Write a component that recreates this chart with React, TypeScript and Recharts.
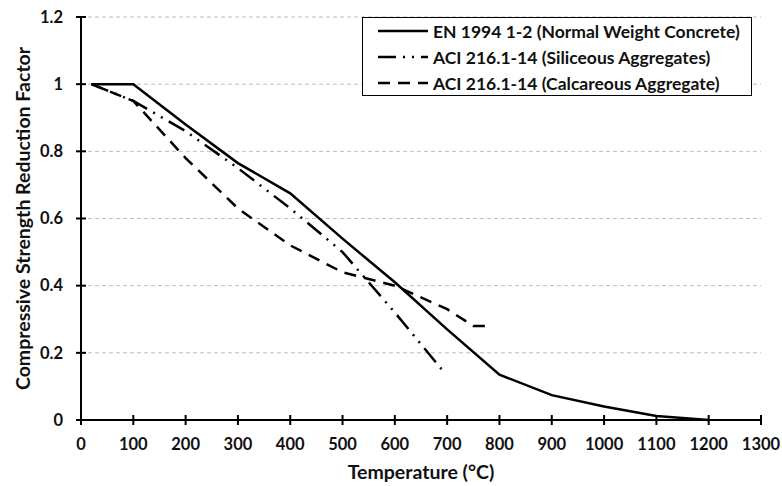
import { LineChart, Line, XAxis, YAxis, CartesianGrid, Legend, Label } from "recharts";

// EN 1994 1-2 (normal weight concrete)
const enTemps = [20, 100, 200, 300, 400, 500, 600, 700, 800, 900, 1000, 1100, 1200];
const enFactors = [1, 1, 0.88, 0.765, 0.675, 0.54, 0.41, 0.27, 0.135, 0.074, 0.04, 0.012, 0];

// ACI 216.1-14 siliceous
const silTemps = [20, 100, 200, 300, 400, 500, 600, 690];
const silFactors = [1, 0.95, 0.86, 0.75, 0.63, 0.5, 0.32, 0.15];

// ACI 216.1-14 calcareous
const calTemps = [20, 100, 200, 300, 400, 500, 600, 700, 750, 780];
const calFactors = [1, 0.95, 0.78, 0.63, 0.52, 0.44, 0.4, 0.33, 0.28, 0.28];

const xTicks = [0, 100, 200, 300, 400, 500, 600, 700, 800, 900, 1000, 1100, 1200, 1300];
const yTicks = [0, 0.2, 0.4, 0.6, 0.8, 1, 1.2];
const yTickLabels = ["0", "0.2", "0.4", "0.6", "0.8", "1", "1.2"];

const seriesNames = [
  "EN 1994 1-2 (Normal Weight Concrete)",
  "ACI 216.1-14 (Siliceous Aggregates)",
  "ACI 216.1-14 (Calcareous Aggregate)",
];

const toPoints = (temps: number[], vals: number[]) =>
  temps.map((t, i) => ({ t, v: vals[i] }));

const enData = toPoints(enTemps, enFactors);
const silData = toPoints(silTemps, silFactors);
const calData = toPoints(calTemps, calFactors);

const FONT = "Lato, 'Open Sans', sans-serif";
const TEXT = "#111";
const dashes: Record<string, string | undefined> = {
  [seriesNames[0]]: undefined,
  [seriesNames[1]]: "18 7 2 7 2 7",
  [seriesNames[2]]: "12 8",
};

function XTick(props: any) {
  const { x, y, payload } = props;
  return (
    <g>
      <line x1={x} x2={x} y1={y - 5} y2={y + 5} stroke="#000" strokeWidth={2} />
      <text x={x} y={y + 30} textAnchor="middle" fontFamily={FONT} fontWeight={700} fontSize={16.5} fill={TEXT}>
        {payload.value}
      </text>
    </g>
  );
}

function YTick(props: any) {
  const { x, y, payload, index } = props;
  return (
    <g>
      <line x1={x - 5} x2={x + 5} y1={y} y2={y} stroke="#000" strokeWidth={2} />
      <text x={x - 18} y={y} dy="0.35em" textAnchor="end" fontFamily={FONT} fontWeight={700} fontSize={16.5} fill={TEXT}>
        {yTickLabels[index] ?? payload.value}
      </text>
    </g>
  );
}

function LegendBox() {
  return (
    <div
      style={{
        width: 390,
        height: 79,
        boxSizing: "border-box",
        border: "1.5px solid #000",
        background: "#fff",
        fontFamily: FONT,
        fontWeight: 700,
        fontSize: 17.5,
        color: TEXT,
      }}
    >
      {seriesNames.map((name) => (
        <div key={name} style={{ height: 26, display: "flex", alignItems: "center", whiteSpace: "nowrap" }}>
          <svg width={70} height={26} style={{ flex: "none" }}>
            <line x1={15} x2={65} y1={13} y2={13} stroke="#000" strokeWidth={2.5} strokeDasharray={dashes[name]} />
          </svg>
          <span>{name}</span>
        </div>
      ))}
    </div>
  );
}

export default function App() {
  return (
    <div style={{ position: "absolute", left: 0, top: 0, background: "#fff" }}>
      <LineChart width={782} height={486} margin={{ top: 17, right: 21, bottom: 0, left: 0 }}>
        <CartesianGrid horizontal vertical={false} stroke="#bdbdbd" strokeDasharray="4 3" />
        <XAxis
          dataKey="t"
          type="number"
          domain={[0, 1300]}
          ticks={xTicks}
          allowDuplicatedCategory={false}
          height={66}
          tickSize={0}
          tickMargin={0}
          tickLine={false}
          tick={<XTick />}
          axisLine={{ stroke: "#000", strokeWidth: 2 }}
        >
          <Label
            content={({ viewBox }: any) => (
              <text
                x={viewBox.x + viewBox.width / 2}
                y={viewBox.y + 59}
                textAnchor="middle"
                fontFamily={FONT}
                fontWeight={700}
                fontSize={19.5}
                fill={TEXT}
              >
                Temperature (°C)
              </text>
            )}
          />
        </XAxis>
        <YAxis
          type="number"
          domain={[0, 1.2]}
          ticks={yTicks}
          width={81}
          tickSize={0}
          tickMargin={0}
          tickLine={false}
          tick={<YTick />}
          axisLine={{ stroke: "#000", strokeWidth: 2 }}
        >
          <Label
            content={({ viewBox }: any) => {
              const cx = viewBox.x + 22;
              const cy = viewBox.y + viewBox.height / 2;
              return (
                <text
                  x={cx}
                  y={cy}
                  transform={`rotate(-90, ${cx}, ${cy})`}
                  textAnchor="middle"
                  dominantBaseline="central"
                  fontFamily={FONT}
                  fontWeight={700}
                  fontSize={19.5}
                  fill={TEXT}
                >
                  Compressive Strength Reduction Factor
                </text>
              );
            }}
          />
        </YAxis>
        <Legend
          layout="vertical"
          align="center"
          verticalAlign="middle"
          content={<LegendBox />}
          wrapperStyle={{ left: 362, top: 17, width: 390, height: 79 }}
        />
        <Line
          data={enData}
          dataKey="v"
          name={seriesNames[0]}
          type="linear"
          stroke="#000"
          strokeWidth={2.5}
          dot={false}
          isAnimationActive={false}
        />
        <Line
          data={silData}
          dataKey="v"
          name={seriesNames[1]}
          type="linear"
          stroke="#000"
          strokeWidth={2.5}
          strokeDasharray={dashes[seriesNames[1]]}
          dot={false}
          isAnimationActive={false}
        />
        <Line
          data={calData}
          dataKey="v"
          name={seriesNames[2]}
          type="linear"
          stroke="#000"
          strokeWidth={2.5}
          strokeDasharray={dashes[seriesNames[2]]}
          dot={false}
          isAnimationActive={false}
        />
      </LineChart>
    </div>
  );
}
